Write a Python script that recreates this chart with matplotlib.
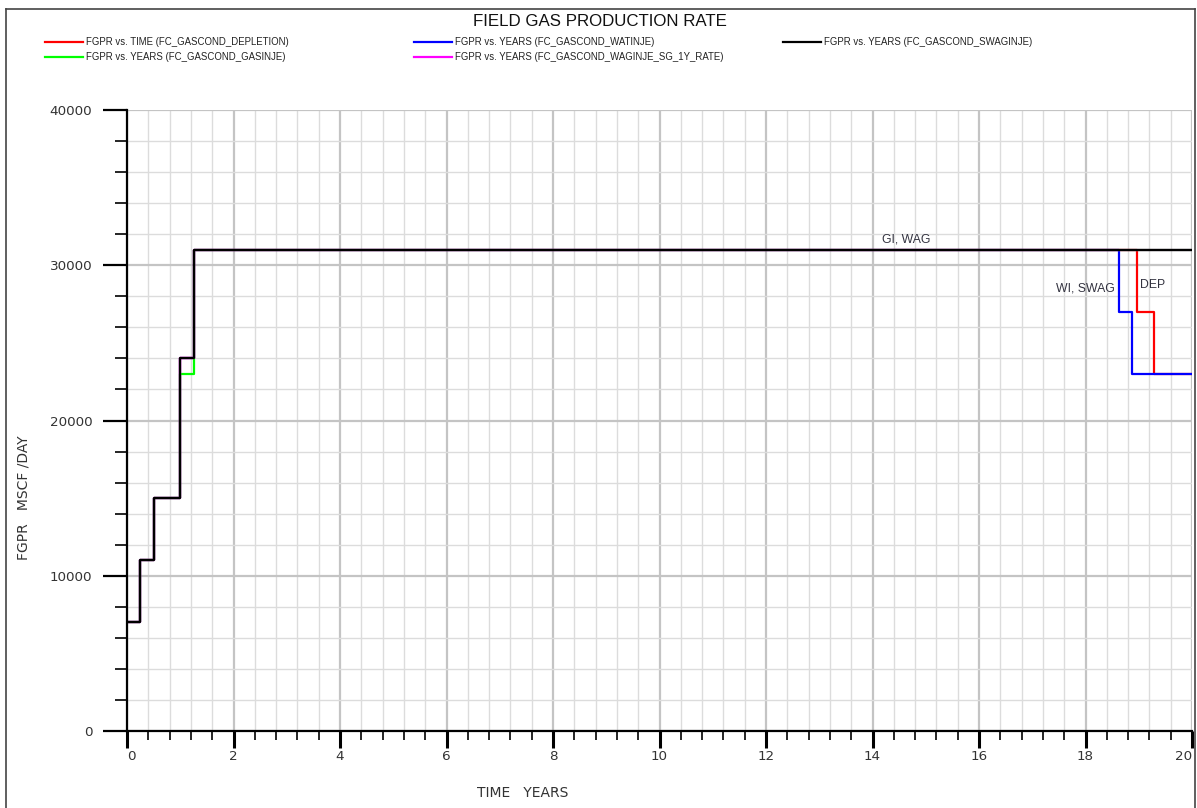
import matplotlib.pyplot as plt
import numpy as np
from matplotlib.lines import Line2D
from matplotlib.ticker import MultipleLocator

# step data (years, MSCF/day)
t_dep = [0, 0.25, 0.5, 1.0, 1.25, 18.96, 19.29, 20]
q_dep = [7000, 11000, 15000, 24000, 31000, 27000, 23000, 23000]

t_wat = [0, 0.25, 0.5, 1.0, 1.25, 18.62, 18.87, 20]
q_wat = [7000, 11000, 15000, 24000, 31000, 27000, 23000, 23000]

t_gas = [0, 0.25, 0.5, 1.0, 1.25, 20]
q_gas = [7000, 11000, 15000, 23000, 31000, 31000]

t_wag = [0, 0.25, 0.5, 1.0, 1.25, 20]
q_wag = [7000, 11000, 15000, 24000, 31000, 31000]

t_swag = [0, 0.25, 0.5, 1.0, 1.25, 20]
q_swag = [7000, 11000, 15000, 24000, 31000, 31000]

labels = ['FGPR vs. TIME (FC_GASCOND_DEPLETION)',
          'FGPR vs. YEARS (FC_GASCOND_GASINJE)',
          'FGPR vs. YEARS (FC_GASCOND_WATINJE)',
          'FGPR vs. YEARS (FC_GASCOND_WAGINJE_SG_1Y_RATE)',
          'FGPR vs. YEARS (FC_GASCOND_SWAGINJE)']
colors = ['#ff0000', '#00ff00', '#0000ff', '#ff00ff', '#000000']

x_ticks = [0, 2, 4, 6, 8, 10, 12, 14, 16, 18, 20]
y_ticks = [0, 10000, 20000, 30000, 40000]

W, H = 1197, 808
fig = plt.figure(figsize=(W / 100, H / 100), dpi=100)
ax = fig.add_axes([127 / W, 77 / H, 1065 / W, 621 / H])

# draw order: red, blue, green, magenta, black on top
ax.plot(t_dep, q_dep, drawstyle='steps-post', color=colors[0], lw=1.6)
ax.plot(t_wat, q_wat, drawstyle='steps-post', color=colors[2], lw=1.6)
ax.plot(t_gas, q_gas, drawstyle='steps-post', color=colors[1], lw=1.6)
ax.plot(t_wag, q_wag, drawstyle='steps-post', color=colors[3], lw=1.6)
ax.plot(t_swag, q_swag, drawstyle='steps-post', color=colors[4], lw=1.6)

ax.set_xlim(0, 20)
ax.set_ylim(0, 40000)
ax.set_xticks(x_ticks)
ax.set_yticks(y_ticks)
ax.xaxis.set_minor_locator(MultipleLocator(0.4))
ax.yaxis.set_minor_locator(MultipleLocator(2000))
ax.grid(which='minor', color='#dcdcdc', lw=1.0)
ax.grid(which='major', color='#c4c4c4', lw=1.6)
ax.set_axisbelow(True)

for s in ['top', 'right']:
    ax.spines[s].set_visible(False)
for s in ['left', 'bottom']:
    ax.spines[s].set_linewidth(1.6)
    ax.spines[s].set_zorder(5)

ax.tick_params(axis='x', which='major', direction='out', length=12, width=2.2, pad=2,
               labelsize=9.7, labelcolor='#333333')
ax.tick_params(axis='x', which='minor', direction='out', length=6.5, width=1.2)
ax.tick_params(axis='y', which='major', direction='out', length=17, width=1.6, pad=8,
               labelsize=9.7, labelcolor='#333333')
ax.tick_params(axis='y', which='minor', direction='out', length=8.5, width=1.2)
xlabs = ax.get_xticklabels()
for lab in xlabs + ax.get_yticklabels():
    lab.set_family('DejaVu Sans')
xlabs[0].set_ha('left')
xlabs[-1].set_ha('right')

# curve annotations
ann = dict(family=['Liberation Sans', 'DejaVu Sans'], fontsize=8.8, color='#333340', va='center')
ax.text(14.17, 31650, 'GI, WAG', ha='left', **ann)
ax.text(18.55, 28500, 'WI, SWAG', ha='right', **ann)
ax.text(19.03, 28700, 'DEP', ha='left', **ann)

# axis titles
fig.text(523 / W, 1 - 793 / H, 'TIME   YEARS', ha='center', va='center',
         fontsize=10, color='#333333', family='DejaVu Sans')
fig.text(24 / W, 1 - 498 / H, 'FGPR   MSCF /DAY', ha='center', va='center', rotation=90,
         fontsize=10, color='#333333', family='DejaVu Sans')

fig.text(600 / W, 1 - 22 / H, 'FIELD GAS PRODUCTION RATE', ha='center', va='center',
         fontsize=12.2, color='#111111', family=['Liberation Sans Narrow', 'Liberation Sans'])

# legend laid out like the original two rows / three columns
col_x = [45, 45, 414, 414, 783]
row_y = [41.7, 57, 41.7, 57, 41.7]
for lbl, c, cx, ry in zip(labels, colors, col_x, row_y):
    fig.add_artist(Line2D([cx / W, (cx + 38) / W], [1 - ry / H, 1 - ry / H], color=c, lw=1.6))
    fig.text((cx + 41) / W, 1 - ry / H, lbl, ha='left', va='center', fontsize=6.9,
             color='#222222', family=['Liberation Sans Narrow', 'Liberation Sans'])

# outer frame
fc = '#444444'
fig.add_artist(Line2D([6 / W, 6 / W], [0, 1 - 9 / H], color=fc, lw=1.2))
fig.add_artist(Line2D([6 / W, 1195 / W], [1 - 9 / H, 1 - 9 / H], color=fc, lw=1.2))
fig.add_artist(Line2D([1195 / W, 1195 / W], [0, 1 - 9 / H], color=fc, lw=1.2))

fig.savefig('out.png', dpi=100)
